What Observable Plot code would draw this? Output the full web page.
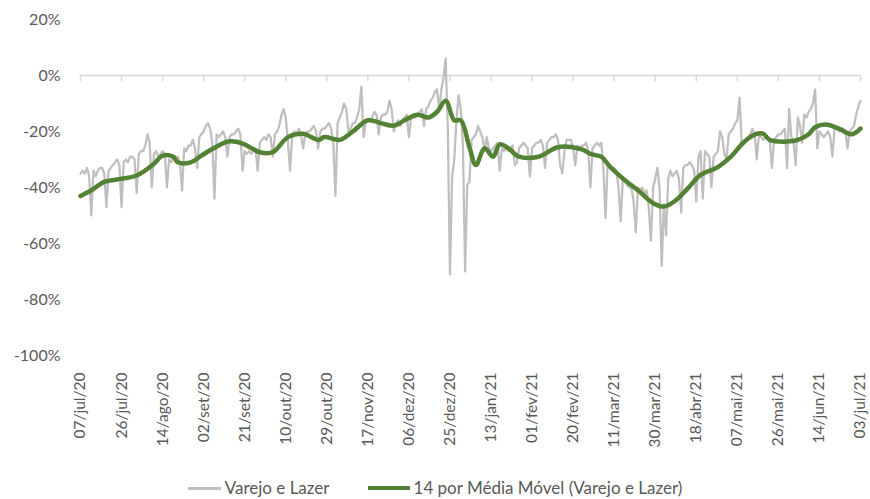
<!DOCTYPE html>
<html><head><meta charset="utf-8">
<script src="https://cdn.jsdelivr.net/npm/d3@7"></script>
<script src="https://cdn.jsdelivr.net/npm/@observablehq/plot@0.6"></script>
<style>
body{margin:0;background:#fff;font-family:Lato,sans-serif;}
#legend{display:flex;justify-content:center;align-items:center;gap:38px;color:#595959;font-size:17px;margin-top:28px;height:20px;line-height:20px;}
.item{display:flex;align-items:center;}
.sw{display:inline-block;margin-right:4px;}
</style></head><body><div id="chart"></div><div id="legend"></div>
<script>
const startDate = "2020-07-07";
// daily values (%), from 07/jul/20 to 03/jul/21
const grayValues = [
-35,-34,-35,-33,-36,-50,
-34,-36,-34,-33,-33,-35,-47,
-34,-33,-32,-31,-30,-32,-47,
-31,-30,-31,-29,-29,-30,-42,
-28,-27,-27,-25,-21,-24,-40,
-28,-27,-29,-28,-27,-28,-40,
-30,-31,-29,-30,-29,-31,-41,
-26,-27,-25,-25,-23,-26,-33,
-22,-21,-20,-18,-17,-19,-24,
-44,-21,-22,-21,-20,-22,-29,
-22,-21,-21,-20,-19,-21,-34,
-27,-28,-27,-28,-27,-26,-34,
-24,-23,-22,-23,-21,-22,-29,
-21,-20,-18,-14,-12,-15,-24,
-34,-21,-20,-21,-19,-21,-26,
-21,-20,-20,-19,-18,-20,-26,
-20,-19,-19,-18,-17,-19,-24,
-43,-17,-15,-13,-10,-12,-20,
-19,-17,-17,-15,-12,-4,-22,
-17,-16,-16,-15,-13,-14,-21,
-15,-14,-14,-13,-9,-12,-20,
-17,-16,-18,-16,-15,-14,-22,
-15,-14,-15,-14,-13,-12,-18,
-12,-11,-9,-8,-6,-5,-12,
-5,-1,6,-19,-71,-36,-30,
-16,-7,-12,-25,-70,-39,-38,
-23,-22,-21,-18,-20,-22,-27,
-22,-26,-27,-26,-25,-24,-34,
-26,-27,-26,-27,-26,-25,-32,
-31,-26,-25,-24,-25,-26,-36,
-26,-25,-24,-24,-23,-25,-33,
-24,-23,-22,-22,-21,-23,-32,
-35,-27,-23,-23,-23,-26,-32,
-25,-26,-25,-25,-24,-27,-40,
-26,-25,-24,-25,-24,-33,-51,
-31,-33,-34,-33,-34,-40,-52,
-37,-38,-39,-40,-40,-45,-56,
-40,-41,-40,-42,-41,-47,-59,
-40,-37,-33,-40,-68,-46,-57,
-37,-34,-36,-35,-34,-37,-49,
-33,-32,-32,-31,-32,-34,-45,
-29,-27,-44,-27,-28,-29,-40,
-29,-28,-27,-20,-22,-28,-30,
-21,-20,-19,-17,-16,-8,-24,
-24,-23,-22,-21,-19,-21,-30,
-21,-22,-23,-22,-22,-23,-33,
-23,-22,-21,-21,-20,-19,-33,
-12,-22,-24,-32,-15,-18,-24,
-14,-15,-13,-12,-10,-5,-26,
-20,-21,-22,-21,-20,-22,-29,
-19,-19,-20,-19,-19,-20,-26,
-20,-19,-18,-14,-11,-9
];
// 14-day moving average, read at sampled days (offset from start)
const maDays = [0,5,11,18,26,34,38,43,45,51,56,62,69,75,83,89,96,103,110,113,120,126,133,139,145,150,156,161,165,169,173,176,180,183,187,191,194,198,203,212,221,232,236,241,245,251,258,265,270,275,281,287,295,301,306,309,313,316,319,327,332,337,340,345,351,357,361];
const maValues = [-43,-41,-38,-37,-35.7,-31.5,-28.6,-29,-31,-31,-28.6,-25.8,-23.5,-24.3,-27.4,-27.4,-22,-20.8,-23,-22,-23,-20,-16,-17,-17.9,-16,-14,-15,-13,-9,-16,-16,-25.6,-32,-26,-29,-24.6,-26,-29,-29,-25.6,-26.4,-28,-29,-32.5,-36.8,-41,-45.6,-46.8,-44.9,-40.4,-35.5,-32.7,-29,-24.6,-22.5,-20.8,-20.8,-23,-23.6,-23,-21,-18.5,-17.5,-19,-21,-19];
const yTicks = [-100,-80,-60,-40,-20,0,20];
const tickLabels = ["07/jul/20","26/jul/20","14/ago/20","02/set/20","21/set/20","10/out/20","29/out/20","17/nov/20","06/dez/20","25/dez/20","13/jan/21","01/fev/21","20/fev/21","11/mar/21","30/mar/21","18/abr/21","07/mai/21","26/mai/21","14/jun/21","03/jul/21"];
const seriesNames = ["Varejo e Lazer","14 por Média Móvel (Varejo e Lazer)"];
const seriesColors = ["#bfbfbf","#548235"];
const monthAbbr = ["jan","fev","mar","abr","mai","jun","jul","ago","set","out","nov","dez"];

const start = new Date(startDate + "T00:00:00Z");
const parseLabel = s => { const [dd,mm,yy] = s.split("/"); return new Date(Date.UTC(2000 + +yy, monthAbbr.indexOf(mm), +dd)); };
const tickDates = tickLabels.map(parseLabel);
const labelOf = new Map(tickDates.map((d,i)=>[+d, tickLabels[i]]));
const daily = grayValues.map((v,i)=>({date: d3.utcDay.offset(start,i), value:v}));
const ma = maDays.map((d,i)=>({date: d3.utcDay.offset(start,d), value: maValues[i]}));

const chart = Plot.plot({
  width:870, height:450, marginLeft:80, marginRight:10, marginTop:19, marginBottom:95,
  style:{fontFamily:"Lato, sans-serif", fontSize:"16px", color:"#595959", background:"#fff"},
  x:{type:"utc", domain:[tickDates[0], tickDates[tickDates.length-1]]},
  y:{domain:[-100,20]},
  marks:[
    Plot.ruleY([0],{stroke:"#d9d9d9", strokeWidth:1.5}),
    Plot.ruleX(tickDates,{x:d=>d, y1:0, y2:-2.2, stroke:"#d9d9d9", strokeWidth:1.5}),
    Plot.line(daily,{x:"date", y:"value", stroke:seriesColors[0], strokeWidth:2.25}),
    Plot.line(ma,{x:"date", y:"value", stroke:seriesColors[1], strokeWidth:4.5, curve:"catmull-rom"}),
    Plot.axisY({ticks:yTicks, tickSize:0, tickPadding:20, tickFormat:d=>d+"%", label:null, fontSize:16}),
    Plot.axisX({ticks:tickDates, tickSize:0, tickPadding:17, tickRotate:-90, tickFormat:d=>labelOf.get(+d), label:null, fontSize:15.5})
  ]
});
document.getElementById("chart").append(chart);

const legend = document.getElementById("legend");
const swW = [33,42], swH = [3,4.5];
seriesNames.forEach((n,i)=>{
  const it = document.createElement("div"); it.className="item";
  const sw = document.createElement("span"); sw.className="sw";
  sw.style.width = swW[i]+"px"; sw.style.height = swH[i]+"px"; sw.style.background = seriesColors[i];
  const t = document.createElement("span"); t.textContent = n;
  it.append(sw,t); legend.append(it);
});
</script>
</body></html>
